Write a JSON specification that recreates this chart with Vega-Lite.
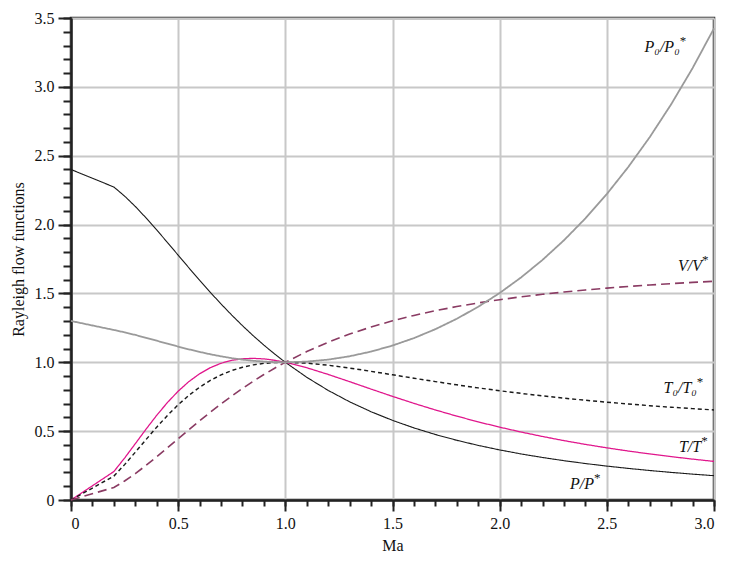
{
  "$schema": "https://vega.github.io/schema/vega-lite/v6.json",
  "width": 643,
  "height": 482,
  "autosize": "none",
  "padding": {"left": 71, "top": 18, "right": 19, "bottom": 61},
  "background": "white",
  "datasets": {
    "curves": [
      {"M": 0, "f": "P", "v": 2.4}, {"M": 0.2, "f": "P", "v": 2.2727}, {"M": 0.25, "f": "P", "v": 2.2069}, {"M": 0.3, "f": "P", "v": 2.1314},
      {"M": 0.35, "f": "P", "v": 2.0487}, {"M": 0.4, "f": "P", "v": 1.9608}, {"M": 0.45, "f": "P", "v": 1.8699}, {"M": 0.5, "f": "P", "v": 1.7778},
      {"M": 0.55, "f": "P", "v": 1.686}, {"M": 0.6, "f": "P", "v": 1.5957}, {"M": 0.65, "f": "P", "v": 1.508}, {"M": 0.7, "f": "P", "v": 1.4235},
      {"M": 0.75, "f": "P", "v": 1.3427}, {"M": 0.8, "f": "P", "v": 1.2658}, {"M": 0.85, "f": "P", "v": 1.1931}, {"M": 0.9, "f": "P", "v": 1.1246},
      {"M": 0.95, "f": "P", "v": 1.0603}, {"M": 1.0, "f": "P", "v": 1.0}, {"M": 1.1, "f": "P", "v": 0.8909}, {"M": 1.2, "f": "P", "v": 0.7958},
      {"M": 1.3, "f": "P", "v": 0.713}, {"M": 1.4, "f": "P", "v": 0.641}, {"M": 1.5, "f": "P", "v": 0.5783}, {"M": 1.6, "f": "P", "v": 0.5236},
      {"M": 1.7, "f": "P", "v": 0.4756}, {"M": 1.8, "f": "P", "v": 0.4335}, {"M": 1.9, "f": "P", "v": 0.3964}, {"M": 2.0, "f": "P", "v": 0.3636},
      {"M": 2.1, "f": "P", "v": 0.3345}, {"M": 2.2, "f": "P", "v": 0.3086}, {"M": 2.3, "f": "P", "v": 0.2855}, {"M": 2.4, "f": "P", "v": 0.2648},
      {"M": 2.5, "f": "P", "v": 0.2462}, {"M": 2.6, "f": "P", "v": 0.2294}, {"M": 2.7, "f": "P", "v": 0.2142}, {"M": 2.8, "f": "P", "v": 0.2004},
      {"M": 2.9, "f": "P", "v": 0.1879}, {"M": 3.0, "f": "P", "v": 0.1765},

      {"M": 0, "f": "T", "v": 0}, {"M": 0.2, "f": "T", "v": 0.2066}, {"M": 0.25, "f": "T", "v": 0.3044}, {"M": 0.3, "f": "T", "v": 0.4089},
      {"M": 0.35, "f": "T", "v": 0.5141}, {"M": 0.4, "f": "T", "v": 0.6151}, {"M": 0.45, "f": "T", "v": 0.708}, {"M": 0.5, "f": "T", "v": 0.7901},
      {"M": 0.55, "f": "T", "v": 0.8599}, {"M": 0.6, "f": "T", "v": 0.9167}, {"M": 0.65, "f": "T", "v": 0.9608}, {"M": 0.7, "f": "T", "v": 0.9929},
      {"M": 0.75, "f": "T", "v": 1.014}, {"M": 0.8, "f": "T", "v": 1.0255}, {"M": 0.85, "f": "T", "v": 1.0285}, {"M": 0.9, "f": "T", "v": 1.0245},
      {"M": 0.95, "f": "T", "v": 1.0146}, {"M": 1.0, "f": "T", "v": 1.0}, {"M": 1.1, "f": "T", "v": 0.9603}, {"M": 1.2, "f": "T", "v": 0.9118},
      {"M": 1.3, "f": "T", "v": 0.8592}, {"M": 1.4, "f": "T", "v": 0.8054}, {"M": 1.5, "f": "T", "v": 0.7525}, {"M": 1.6, "f": "T", "v": 0.7017},
      {"M": 1.7, "f": "T", "v": 0.6538}, {"M": 1.8, "f": "T", "v": 0.6089}, {"M": 1.9, "f": "T", "v": 0.5673}, {"M": 2.0, "f": "T", "v": 0.5289},
      {"M": 2.1, "f": "T", "v": 0.4936}, {"M": 2.2, "f": "T", "v": 0.4611}, {"M": 2.3, "f": "T", "v": 0.4312}, {"M": 2.4, "f": "T", "v": 0.4038},
      {"M": 2.5, "f": "T", "v": 0.3787}, {"M": 2.6, "f": "T", "v": 0.3556}, {"M": 2.7, "f": "T", "v": 0.3344}, {"M": 2.8, "f": "T", "v": 0.3149},
      {"M": 2.9, "f": "T", "v": 0.2969}, {"M": 3.0, "f": "T", "v": 0.2803},

      {"M": 0, "f": "T0", "v": 0}, {"M": 0.2, "f": "T0", "v": 0.1736}, {"M": 0.25, "f": "T0", "v": 0.2568}, {"M": 0.3, "f": "T0", "v": 0.3469},
      {"M": 0.35, "f": "T0", "v": 0.4389}, {"M": 0.4, "f": "T0", "v": 0.529}, {"M": 0.45, "f": "T0", "v": 0.6139}, {"M": 0.5, "f": "T0", "v": 0.6914},
      {"M": 0.55, "f": "T0", "v": 0.7599}, {"M": 0.6, "f": "T0", "v": 0.8189}, {"M": 0.65, "f": "T0", "v": 0.8683}, {"M": 0.7, "f": "T0", "v": 0.9085},
      {"M": 0.75, "f": "T0", "v": 0.9401}, {"M": 0.8, "f": "T0", "v": 0.9639}, {"M": 0.85, "f": "T0", "v": 0.981}, {"M": 0.9, "f": "T0", "v": 0.9921},
      {"M": 0.95, "f": "T0", "v": 0.9981}, {"M": 1.0, "f": "T0", "v": 1.0}, {"M": 1.1, "f": "T0", "v": 0.9939}, {"M": 1.2, "f": "T0", "v": 0.9787},
      {"M": 1.3, "f": "T0", "v": 0.958}, {"M": 1.4, "f": "T0", "v": 0.9343}, {"M": 1.5, "f": "T0", "v": 0.9093}, {"M": 1.6, "f": "T0", "v": 0.8842},
      {"M": 1.7, "f": "T0", "v": 0.8597}, {"M": 1.8, "f": "T0", "v": 0.8363}, {"M": 1.9, "f": "T0", "v": 0.8141}, {"M": 2.0, "f": "T0", "v": 0.7934},
      {"M": 2.1, "f": "T0", "v": 0.7741}, {"M": 2.2, "f": "T0", "v": 0.7561}, {"M": 2.3, "f": "T0", "v": 0.7395}, {"M": 2.4, "f": "T0", "v": 0.7242},
      {"M": 2.5, "f": "T0", "v": 0.7101}, {"M": 2.6, "f": "T0", "v": 0.697}, {"M": 2.7, "f": "T0", "v": 0.6849}, {"M": 2.8, "f": "T0", "v": 0.6738},
      {"M": 2.9, "f": "T0", "v": 0.6635}, {"M": 3.0, "f": "T0", "v": 0.654},

      {"M": 0, "f": "V", "v": 0}, {"M": 0.2, "f": "V", "v": 0.0909}, {"M": 0.25, "f": "V", "v": 0.1379}, {"M": 0.3, "f": "V", "v": 0.1918},
      {"M": 0.35, "f": "V", "v": 0.251}, {"M": 0.4, "f": "V", "v": 0.3137}, {"M": 0.45, "f": "V", "v": 0.3787}, {"M": 0.5, "f": "V", "v": 0.4444},
      {"M": 0.55, "f": "V", "v": 0.51}, {"M": 0.6, "f": "V", "v": 0.5745}, {"M": 0.65, "f": "V", "v": 0.6371}, {"M": 0.7, "f": "V", "v": 0.6975},
      {"M": 0.75, "f": "V", "v": 0.7552}, {"M": 0.8, "f": "V", "v": 0.8101}, {"M": 0.85, "f": "V", "v": 0.862}, {"M": 0.9, "f": "V", "v": 0.911},
      {"M": 0.95, "f": "V", "v": 0.9569}, {"M": 1.0, "f": "V", "v": 1.0}, {"M": 1.1, "f": "V", "v": 1.078}, {"M": 1.2, "f": "V", "v": 1.1459},
      {"M": 1.3, "f": "V", "v": 1.205}, {"M": 1.4, "f": "V", "v": 1.2564}, {"M": 1.5, "f": "V", "v": 1.3012}, {"M": 1.6, "f": "V", "v": 1.3403},
      {"M": 1.7, "f": "V", "v": 1.3746}, {"M": 1.8, "f": "V", "v": 1.4046}, {"M": 1.9, "f": "V", "v": 1.4311}, {"M": 2.0, "f": "V", "v": 1.4545},
      {"M": 2.1, "f": "V", "v": 1.4753}, {"M": 2.2, "f": "V", "v": 1.4938}, {"M": 2.3, "f": "V", "v": 1.5104}, {"M": 2.4, "f": "V", "v": 1.5252},
      {"M": 2.5, "f": "V", "v": 1.5385}, {"M": 2.6, "f": "V", "v": 1.5505}, {"M": 2.7, "f": "V", "v": 1.5613}, {"M": 2.8, "f": "V", "v": 1.5711},
      {"M": 2.9, "f": "V", "v": 1.5801}, {"M": 3.0, "f": "V", "v": 1.5882},

      {"M": 0, "f": "P0", "v": 1.3}, {"M": 0.2, "f": "P0", "v": 1.2346}, {"M": 0.25, "f": "P0", "v": 1.2177}, {"M": 0.3, "f": "P0", "v": 1.1986},
      {"M": 0.35, "f": "P0", "v": 1.1779}, {"M": 0.4, "f": "P0", "v": 1.1566}, {"M": 0.45, "f": "P0", "v": 1.1351}, {"M": 0.5, "f": "P0", "v": 1.1141},
      {"M": 0.55, "f": "P0", "v": 1.094}, {"M": 0.6, "f": "P0", "v": 1.0753}, {"M": 0.65, "f": "P0", "v": 1.0583}, {"M": 0.7, "f": "P0", "v": 1.0431},
      {"M": 0.75, "f": "P0", "v": 1.0301}, {"M": 0.8, "f": "P0", "v": 1.0194}, {"M": 0.85, "f": "P0", "v": 1.0109}, {"M": 0.9, "f": "P0", "v": 1.0049},
      {"M": 0.95, "f": "P0", "v": 1.0012}, {"M": 1.0, "f": "P0", "v": 1.0}, {"M": 1.1, "f": "P0", "v": 1.0049}, {"M": 1.2, "f": "P0", "v": 1.0194},
      {"M": 1.3, "f": "P0", "v": 1.0437}, {"M": 1.4, "f": "P0", "v": 1.0777}, {"M": 1.5, "f": "P0", "v": 1.1216}, {"M": 1.6, "f": "P0", "v": 1.1756},
      {"M": 1.7, "f": "P0", "v": 1.2403}, {"M": 1.8, "f": "P0", "v": 1.3159}, {"M": 1.9, "f": "P0", "v": 1.4032}, {"M": 2.0, "f": "P0", "v": 1.5031},
      {"M": 2.1, "f": "P0", "v": 1.6162}, {"M": 2.2, "f": "P0", "v": 1.7435}, {"M": 2.3, "f": "P0", "v": 1.886}, {"M": 2.4, "f": "P0", "v": 2.0449},
      {"M": 2.5, "f": "P0", "v": 2.2219}, {"M": 2.6, "f": "P0", "v": 2.4179}, {"M": 2.7, "f": "P0", "v": 2.6344}, {"M": 2.8, "f": "P0", "v": 2.873},
      {"M": 2.9, "f": "P0", "v": 3.1357}, {"M": 3.0, "f": "P0", "v": 3.4245}
    ],
    "labels": [
      {"f": "P0", "x": 2.84, "y": 3.256, "t": "P₀/P₀", "sx": 2.84},
      {"f": "V", "x": 2.944, "y": 1.663, "t": "V/V", "sx": 2.944},
      {"f": "T0", "x": 2.92, "y": 0.777, "t": "T₀/T₀", "sx": 2.92},
      {"f": "T", "x": 2.94, "y": 0.351, "t": "T/T", "sx": 2.94},
      {"f": "P", "x": 2.44, "y": 0.078, "t": "P/P", "sx": 2.44}
    ]
  },
  "layer": [
    {
      "data": {"name": "curves"},
      "mark": {"type": "line", "interpolate": "linear"},
      "encoding": {
        "x": {
          "field": "M", "type": "quantitative",
          "scale": {"domain": [0, 3], "nice": false, "zero": false},
          "axis": {
            "orient": "bottom",
            "values": [0, 0.5, 1, 1.5, 2, 2.5, 3],
            "labelExpr": "datum.value == 0 ? '0' : format(datum.value, '.1f')",
            "grid": true, "tickSize": 11, "labelPadding": 4,
            "title": "Ma", "titlePadding": 6
          }
        },
        "y": {
          "field": "v", "type": "quantitative",
          "scale": {"domain": [0, 3.5], "nice": false},
          "axis": {
            "orient": "left",
            "values": [0, 0.5, 1, 1.5, 2, 2.5, 3, 3.5],
            "labelExpr": "datum.value == 0 ? '0' : format(datum.value, '.1f')",
            "grid": true, "tickSize": 13, "labelPadding": 4,
            "title": "Rayleigh flow functions", "titlePadding": 8
          }
        },
        "detail": {"field": "f"},
        "color": {
          "field": "f", "type": "nominal", "legend": null,
          "scale": {"domain": ["P", "T", "T0", "V", "P0"], "range": ["#1a1a1a", "#e0168c", "#1a1a1a", "#8a3b63", "#9a9a9a"]}
        },
        "strokeDash": {
          "field": "f", "type": "nominal", "legend": null,
          "scale": {"domain": ["P", "T", "T0", "V", "P0"], "range": [[1, 0], [1, 0], [4, 3], [9, 5], [1, 0]]}
        },
        "strokeWidth": {
          "field": "f", "type": "nominal", "legend": null,
          "scale": {"domain": ["P", "T", "T0", "V", "P0"], "range": [1.1, 1.8, 1.1, 2, 1.1]}
        }
      }
    },
    {
      "data": {"name": "labels"},
      "mark": {"type": "text", "align": "right", "baseline": "alphabetic", "font": "Times New Roman, Liberation Serif, DejaVu Serif, serif", "fontStyle": "italic", "fontSize": 16, "color": "#111"},
      "encoding": {
        "x": {
          "field": "x", "type": "quantitative",
          "scale": {"domain": [0, 3], "nice": false, "zero": false},
          "axis": {
            "orient": "bottom",
            "values": [0, 0.1, 0.2, 0.3, 0.4, 0.5, 0.6, 0.7, 0.8, 0.9, 1, 1.1, 1.2, 1.3, 1.4, 1.5, 1.6, 1.7, 1.8, 1.9, 2, 2.1, 2.2, 2.3, 2.4, 2.5, 2.6, 2.7, 2.8, 2.9, 3],
            "labels": false, "grid": false, "domain": false, "tickSize": 6, "title": null
          }
        },
        "y": {
          "field": "y", "type": "quantitative",
          "scale": {"domain": [0, 3.5], "nice": false},
          "axis": {
            "orient": "left",
            "values": [0, 0.1, 0.2, 0.3, 0.4, 0.5, 0.6, 0.7, 0.8, 0.9, 1, 1.1, 1.2, 1.3, 1.4, 1.5, 1.6, 1.7, 1.8, 1.9, 2, 2.1, 2.2, 2.3, 2.4, 2.5, 2.6, 2.7, 2.8, 2.9, 3, 3.1, 3.2, 3.3, 3.4, 3.5],
            "labels": false, "grid": false, "domain": false, "tickSize": 8, "title": null
          }
        },
        "text": {"field": "t"}
      }
    },
    {
      "data": {"name": "labels"},
      "mark": {"type": "text", "align": "left", "baseline": "alphabetic", "dy": -7, "font": "Times New Roman, Liberation Serif, DejaVu Serif, serif", "fontSize": 13, "color": "#111"},
      "encoding": {
        "x": {"field": "sx", "type": "quantitative", "scale": {"domain": [0, 3], "nice": false, "zero": false}, "axis": null},
        "y": {"field": "y", "type": "quantitative", "scale": {"domain": [0, 3.5], "nice": false}, "axis": null},
        "text": {"value": "*"}
      }
    }
  ],
  "resolve": {"axis": {"x": "independent", "y": "independent"}},
  "config": {
    "view": {"stroke": "#222", "strokeWidth": 2.5},
    "axis": {
      "domainColor": "#222", "domainWidth": 2.5,
      "tickColor": "#222", "tickWidth": 2,
      "gridColor": "#c8c8c8", "gridWidth": 2,
      "labelFont": "Times New Roman, Liberation Serif, DejaVu Serif, serif", "labelFontSize": 16, "labelColor": "#111",
      "titleFont": "Times New Roman, Liberation Serif, DejaVu Serif, serif", "titleFontSize": 16, "titleFontWeight": "normal", "titleColor": "#111"
    }
  }
}
